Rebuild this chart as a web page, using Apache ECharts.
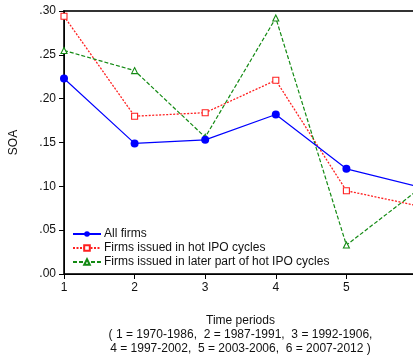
<!DOCTYPE html>
<html><head><meta charset="utf-8">
<script src="https://cdn.jsdelivr.net/npm/echarts@6/dist/echarts.min.js"></script>
<style>html,body{margin:0;padding:0;background:#fff}#c{width:413px;height:356px}</style>
</head><body><div id="c"></div>
<script>
const periods = [1, 2, 3, 4, 5, 6];
const allFirms = [0.223, 0.149, 0.153, 0.182, 0.120, 0.100];
const hotCycles = [0.294, 0.180, 0.184, 0.221, 0.095, 0.078];
const laterHot = [0.255, 0.232, 0.156, 0.292, 0.033, 0.095];
const yTicks = [0, 0.05, 0.10, 0.15, 0.20, 0.25, 0.30];
const seriesNames = ['All firms', 'Firms issued in hot IPO cycles', 'Firms issued in later part of hot IPO cycles'];
const xTitle = 'Time periods\n( 1 = 1970-1986,  2 = 1987-1991,  3 = 1992-1906,\n4 = 1997-2002,  5 = 2003-2006,  6 = 2007-2012 )';

const pair = arr => periods.map((p, i) => [p, arr[i]]);
const font = 'Liberation Sans, Arial, Helvetica, sans-serif';
const chart = echarts.init(document.getElementById('c'), null, {renderer: 'canvas'});
chart.setOption({
  animation: false,
  textStyle: {fontFamily: font},
  grid: {left: 64, top: 11, right: -4, bottom: 82, outerBoundsMode: 'none', containLabel: false,
    show: true, borderColor: '#333', borderWidth: 2, backgroundColor: 'transparent'},
  xAxis: {
    type: 'value', min: 1, max: 6, interval: 1,
    axisLine: {lineStyle: {color: '#000', width: 1}},
    axisTick: {show: true, length: 5, lineStyle: {color: '#000'}},
    axisLabel: {color: '#111', fontSize: 12, margin: 8, fontFamily: font},
    splitLine: {show: false},
    name: xTitle, nameLocation: 'middle', nameGap: 40,
    nameTextStyle: {color: '#111', fontSize: 12, lineHeight: 14, fontFamily: font, align: 'center'}
  },
  yAxis: {
    type: 'value', min: yTicks[0], max: yTicks[yTicks.length - 1], interval: 0.05,
    axisLine: {show: true, lineStyle: {color: '#000', width: 1}},
    axisTick: {show: true, length: 5, lineStyle: {color: '#000'}},
    axisLabel: {color: '#111', fontSize: 12, margin: 8, fontFamily: font,
      formatter: v => v.toFixed(2).replace(/^0/, '')},
    splitLine: {show: false},
    name: 'SOA', nameLocation: 'middle', nameGap: 44, nameRotate: 90,
    nameTextStyle: {color: '#111', fontSize: 12, fontFamily: font}
  },
  legend: {
    orient: 'vertical', left: 72, top: 228, padding: 0, itemWidth: 28, itemHeight: 7, itemGap: 2,
    textStyle: {color: '#111', fontSize: 12, fontFamily: font, padding: [0, 0, 0, -2]},
    data: seriesNames
  },
  series: [
    {name: seriesNames[0], type: 'line', data: pair(allFirms), symbol: 'circle', symbolSize: 8,
      lineStyle: {color: '#0000ff', width: 1.2}, itemStyle: {color: '#0000ff'}, z: 3},
    {name: seriesNames[1], type: 'line', data: pair(hotCycles), symbol: 'rect', symbolSize: 6,
      lineStyle: {color: '#ff2020', width: 1.3, type: [2, 1.5]},
      itemStyle: {color: '#fff', borderColor: '#ff2020', borderWidth: 1.1}, z: 2},
    {name: seriesNames[2], type: 'line', data: pair(laterHot), symbol: 'triangle', symbolSize: 6,
      lineStyle: {color: '#138a13', width: 1.2, type: [4, 2]},
      itemStyle: {color: '#fff', borderColor: '#138a13', borderWidth: 1.1}, z: 2}
  ]
});
</script></body></html>
